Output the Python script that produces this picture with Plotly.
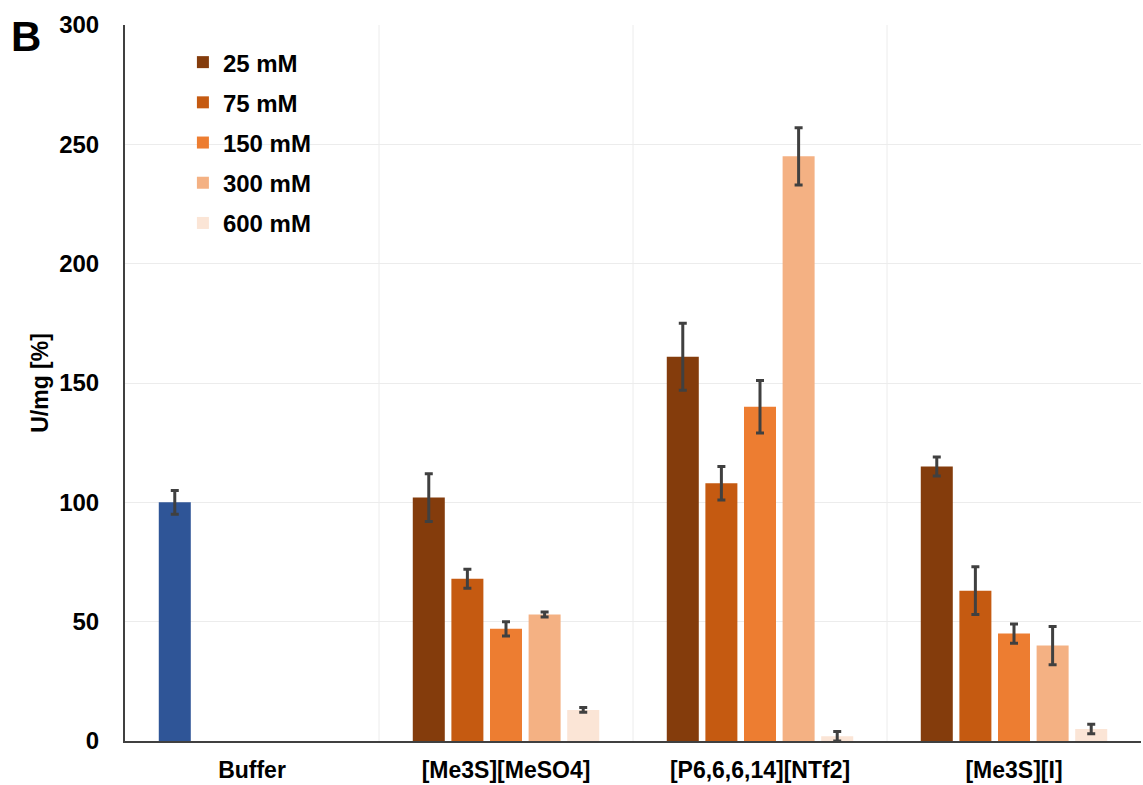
import plotly.graph_objects as go

categories = ["Buffer", "[Me3S][MeSO4]", "[P6,6,6,14][NTf2]", "[Me3S][I]"]
series_names = ["25 mM", "75 mM", "150 mM", "300 mM", "600 mM"]
il_categories = ["[Me3S][MeSO4]", "[P6,6,6,14][NTf2]", "[Me3S][I]"]
values = {
    "25 mM": [102, 161, 115],
    "75 mM": [68, 108, 63],
    "150 mM": [47, 140, 45],
    "300 mM": [53, 245, 40],
    "600 mM": [13, 2, 5],
}
errors = {
    "25 mM": [10, 14, 4],
    "75 mM": [4, 7, 10],
    "150 mM": [3, 11, 4],
    "300 mM": [1, 12, 8],
    "600 mM": [1, 2, 2],
}
buffer_value = [100]
buffer_error = [5]
colors = ["#843c0c", "#c55a11", "#ed7d31", "#f4b183", "#fbe5d6"]
buffer_color = "#2f5597"

step = 0.152
bw = 0.126
FONT = "Liberation Sans, Arial, sans-serif"
err_style = dict(type="data", thickness=3, width=4, color="#404040")

fig = go.Figure()
fig.add_trace(go.Bar(
    x=["Buffer"], y=buffer_value, name="Buffer", showlegend=False,
    marker=dict(color=buffer_color, line=dict(width=0)),
    width=bw, offset=-2 * step - bw / 2,
    error_y=dict(array=buffer_error, **err_style),
))
for i, name in enumerate(series_names):
    fig.add_trace(go.Bar(
        x=il_categories, y=values[name], name=name, legendgroup=name,
        marker=dict(color=colors[i], line=dict(width=0)),
        width=bw, offset=(i - 2) * step - bw / 2,
        error_y=dict(array=errors[name], **err_style),
    ))

fig.update_layout(
    width=1143, height=785,
    barmode="overlay",
    plot_bgcolor="white", paper_bgcolor="white",
    margin=dict(l=125, r=2, t=25, b=44),
    font=dict(family=FONT, color="black"),
    legend=dict(
        x=0.057, y=0.979, xanchor="left", yanchor="top",
        font=dict(size=24, family=FONT, weight="bold"),
        bgcolor="rgba(0,0,0,0)", tracegroupgap=6,
        itemwidth=30,
    ),
    xaxis=dict(
        type="category", categoryorder="array", categoryarray=categories,
        range=[-0.5, 3.5], automargin=False,
        showline=True, linecolor="#404040", linewidth=2,
        showgrid=False,
        tickfont=dict(size=23, family=FONT, weight="bold"),
        ticks="", ticklabelstandoff=7,
    ),
    yaxis=dict(
        range=[0, 300], tickvals=[0, 50, 100, 150, 200, 250, 300],
        automargin=False,
        showline=True, linecolor="#404040", linewidth=2,
        showgrid=True, gridcolor="#ececec", gridwidth=1,
        zeroline=False,
        tickfont=dict(size=24, family=FONT, weight="bold"),
        ticks="", ticklabelstandoff=19,
        title=dict(text="U/mg [%]", font=dict(size=23, family=FONT, weight="bold"), standoff=4),
    ),
    annotations=[dict(
        text="B", xref="paper", yref="paper", x=-0.114, y=1.02,
        xanchor="left", yanchor="top", showarrow=False,
        font=dict(size=42, family=FONT, weight="bold", color="black"),
    )],
    shapes=[dict(
        type="line", xref="x", yref="paper", x0=b, x1=b, y0=0, y1=1,
        line=dict(color="#ececec", width=1), layer="below",
    ) for b in [0.5, 1.5, 2.5]],
)

fig.write_html("out.html", config={"displayModeBar": False},
               post_script="document.body.style.margin='0';")
